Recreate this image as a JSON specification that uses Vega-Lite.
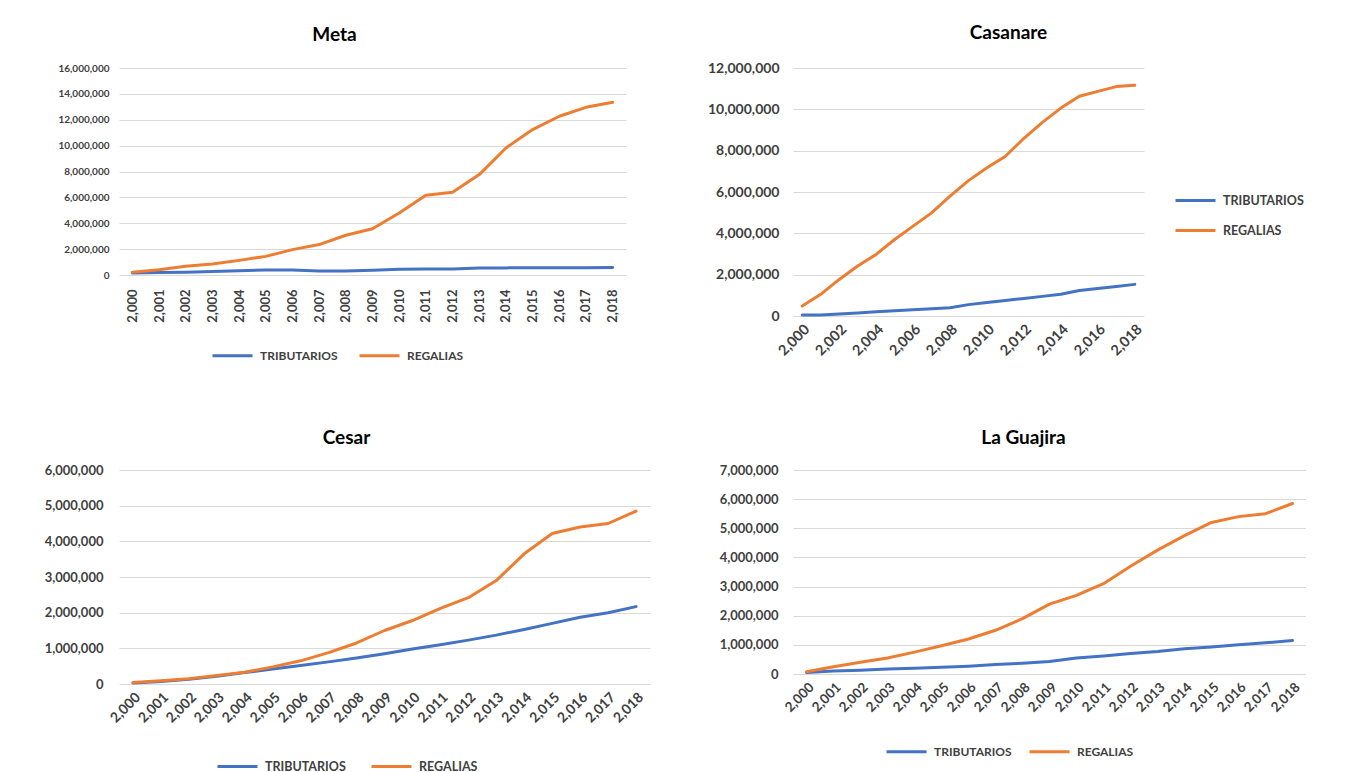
{
  "$schema": "https://vega.github.io/schema/vega-lite/v6.json",
  "autosize": {"type": "pad"},
  "padding": {"left": 44, "top": 24, "right": 0, "bottom": 0},
  "background": "white",
  "config": {
    "font": "Lato",
    "view": {"stroke": null},
    "axis": {"labelFont": "Lato", "labelFontWeight": "bold", "labelColor": "#404040", "domain": false, "ticks": false, "title": null},
    "axisY": {"grid": true, "gridColor": "#d9d9d9", "gridWidth": 1, "labelPadding": 10},
    "axisX": {"grid": false},
    "title": {"font": "Lato", "fontWeight": "bold", "color": "#000000", "anchor": "middle"},
    "legend": {"title": null, "symbolType": "stroke", "symbolSize": 1600, "symbolStrokeWidth": 3, "labelFont": "Lato", "labelFontWeight": "bold", "labelColor": "#404040", "labelOffset": 6},
    "line": {"strokeWidth": 3, "strokeCap": "round", "strokeJoin": "round"}
  },
  "datasets": {
    "rows": [
      {"dept": "Meta", "serie": "TRIBUTARIOS", "year": 2000, "value": 150000},
      {"dept": "Meta", "serie": "TRIBUTARIOS", "year": 2001, "value": 200000},
      {"dept": "Meta", "serie": "TRIBUTARIOS", "year": 2002, "value": 220000},
      {"dept": "Meta", "serie": "TRIBUTARIOS", "year": 2003, "value": 270000},
      {"dept": "Meta", "serie": "TRIBUTARIOS", "year": 2004, "value": 320000},
      {"dept": "Meta", "serie": "TRIBUTARIOS", "year": 2005, "value": 390000},
      {"dept": "Meta", "serie": "TRIBUTARIOS", "year": 2006, "value": 380000},
      {"dept": "Meta", "serie": "TRIBUTARIOS", "year": 2007, "value": 300000},
      {"dept": "Meta", "serie": "TRIBUTARIOS", "year": 2008, "value": 300000},
      {"dept": "Meta", "serie": "TRIBUTARIOS", "year": 2009, "value": 360000},
      {"dept": "Meta", "serie": "TRIBUTARIOS", "year": 2010, "value": 450000},
      {"dept": "Meta", "serie": "TRIBUTARIOS", "year": 2011, "value": 470000},
      {"dept": "Meta", "serie": "TRIBUTARIOS", "year": 2012, "value": 470000},
      {"dept": "Meta", "serie": "TRIBUTARIOS", "year": 2013, "value": 540000},
      {"dept": "Meta", "serie": "TRIBUTARIOS", "year": 2014, "value": 550000},
      {"dept": "Meta", "serie": "TRIBUTARIOS", "year": 2015, "value": 560000},
      {"dept": "Meta", "serie": "TRIBUTARIOS", "year": 2016, "value": 570000},
      {"dept": "Meta", "serie": "TRIBUTARIOS", "year": 2017, "value": 570000},
      {"dept": "Meta", "serie": "TRIBUTARIOS", "year": 2018, "value": 580000},
      {"dept": "Meta", "serie": "REGALIAS", "year": 2000, "value": 210000},
      {"dept": "Meta", "serie": "REGALIAS", "year": 2001, "value": 410000},
      {"dept": "Meta", "serie": "REGALIAS", "year": 2002, "value": 670000},
      {"dept": "Meta", "serie": "REGALIAS", "year": 2003, "value": 850000},
      {"dept": "Meta", "serie": "REGALIAS", "year": 2004, "value": 1130000},
      {"dept": "Meta", "serie": "REGALIAS", "year": 2005, "value": 1440000},
      {"dept": "Meta", "serie": "REGALIAS", "year": 2006, "value": 1960000},
      {"dept": "Meta", "serie": "REGALIAS", "year": 2007, "value": 2350000},
      {"dept": "Meta", "serie": "REGALIAS", "year": 2008, "value": 3070000},
      {"dept": "Meta", "serie": "REGALIAS", "year": 2009, "value": 3580000},
      {"dept": "Meta", "serie": "REGALIAS", "year": 2010, "value": 4790000},
      {"dept": "Meta", "serie": "REGALIAS", "year": 2011, "value": 6160000},
      {"dept": "Meta", "serie": "REGALIAS", "year": 2012, "value": 6390000},
      {"dept": "Meta", "serie": "REGALIAS", "year": 2013, "value": 7760000},
      {"dept": "Meta", "serie": "REGALIAS", "year": 2014, "value": 9820000},
      {"dept": "Meta", "serie": "REGALIAS", "year": 2015, "value": 11240000},
      {"dept": "Meta", "serie": "REGALIAS", "year": 2016, "value": 12270000},
      {"dept": "Meta", "serie": "REGALIAS", "year": 2017, "value": 12960000},
      {"dept": "Meta", "serie": "REGALIAS", "year": 2018, "value": 13350000},
      {"dept": "Casanare", "serie": "TRIBUTARIOS", "year": 2000, "value": 50000},
      {"dept": "Casanare", "serie": "TRIBUTARIOS", "year": 2001, "value": 50000},
      {"dept": "Casanare", "serie": "TRIBUTARIOS", "year": 2002, "value": 100000},
      {"dept": "Casanare", "serie": "TRIBUTARIOS", "year": 2003, "value": 150000},
      {"dept": "Casanare", "serie": "TRIBUTARIOS", "year": 2004, "value": 200000},
      {"dept": "Casanare", "serie": "TRIBUTARIOS", "year": 2005, "value": 250000},
      {"dept": "Casanare", "serie": "TRIBUTARIOS", "year": 2006, "value": 300000},
      {"dept": "Casanare", "serie": "TRIBUTARIOS", "year": 2007, "value": 350000},
      {"dept": "Casanare", "serie": "TRIBUTARIOS", "year": 2008, "value": 400000},
      {"dept": "Casanare", "serie": "TRIBUTARIOS", "year": 2009, "value": 550000},
      {"dept": "Casanare", "serie": "TRIBUTARIOS", "year": 2010, "value": 650000},
      {"dept": "Casanare", "serie": "TRIBUTARIOS", "year": 2011, "value": 750000},
      {"dept": "Casanare", "serie": "TRIBUTARIOS", "year": 2012, "value": 850000},
      {"dept": "Casanare", "serie": "TRIBUTARIOS", "year": 2013, "value": 950000},
      {"dept": "Casanare", "serie": "TRIBUTARIOS", "year": 2014, "value": 1050000},
      {"dept": "Casanare", "serie": "TRIBUTARIOS", "year": 2015, "value": 1230000},
      {"dept": "Casanare", "serie": "TRIBUTARIOS", "year": 2016, "value": 1330000},
      {"dept": "Casanare", "serie": "TRIBUTARIOS", "year": 2017, "value": 1430000},
      {"dept": "Casanare", "serie": "TRIBUTARIOS", "year": 2018, "value": 1530000},
      {"dept": "Casanare", "serie": "REGALIAS", "year": 2000, "value": 480000},
      {"dept": "Casanare", "serie": "REGALIAS", "year": 2001, "value": 1050000},
      {"dept": "Casanare", "serie": "REGALIAS", "year": 2002, "value": 1770000},
      {"dept": "Casanare", "serie": "REGALIAS", "year": 2003, "value": 2420000},
      {"dept": "Casanare", "serie": "REGALIAS", "year": 2004, "value": 2980000},
      {"dept": "Casanare", "serie": "REGALIAS", "year": 2005, "value": 3700000},
      {"dept": "Casanare", "serie": "REGALIAS", "year": 2006, "value": 4350000},
      {"dept": "Casanare", "serie": "REGALIAS", "year": 2007, "value": 4990000},
      {"dept": "Casanare", "serie": "REGALIAS", "year": 2008, "value": 5800000},
      {"dept": "Casanare", "serie": "REGALIAS", "year": 2009, "value": 6550000},
      {"dept": "Casanare", "serie": "REGALIAS", "year": 2010, "value": 7170000},
      {"dept": "Casanare", "serie": "REGALIAS", "year": 2011, "value": 7730000},
      {"dept": "Casanare", "serie": "REGALIAS", "year": 2012, "value": 8600000},
      {"dept": "Casanare", "serie": "REGALIAS", "year": 2013, "value": 9370000},
      {"dept": "Casanare", "serie": "REGALIAS", "year": 2014, "value": 10060000},
      {"dept": "Casanare", "serie": "REGALIAS", "year": 2015, "value": 10630000},
      {"dept": "Casanare", "serie": "REGALIAS", "year": 2016, "value": 10870000},
      {"dept": "Casanare", "serie": "REGALIAS", "year": 2017, "value": 11100000},
      {"dept": "Casanare", "serie": "REGALIAS", "year": 2018, "value": 11160000},
      {"dept": "Cesar", "serie": "TRIBUTARIOS", "year": 2000, "value": 30000},
      {"dept": "Cesar", "serie": "TRIBUTARIOS", "year": 2001, "value": 70000},
      {"dept": "Cesar", "serie": "TRIBUTARIOS", "year": 2002, "value": 130000},
      {"dept": "Cesar", "serie": "TRIBUTARIOS", "year": 2003, "value": 220000},
      {"dept": "Cesar", "serie": "TRIBUTARIOS", "year": 2004, "value": 320000},
      {"dept": "Cesar", "serie": "TRIBUTARIOS", "year": 2005, "value": 420000},
      {"dept": "Cesar", "serie": "TRIBUTARIOS", "year": 2006, "value": 520000},
      {"dept": "Cesar", "serie": "TRIBUTARIOS", "year": 2007, "value": 620000},
      {"dept": "Cesar", "serie": "TRIBUTARIOS", "year": 2008, "value": 730000},
      {"dept": "Cesar", "serie": "TRIBUTARIOS", "year": 2009, "value": 850000},
      {"dept": "Cesar", "serie": "TRIBUTARIOS", "year": 2010, "value": 980000},
      {"dept": "Cesar", "serie": "TRIBUTARIOS", "year": 2011, "value": 1100000},
      {"dept": "Cesar", "serie": "TRIBUTARIOS", "year": 2012, "value": 1230000},
      {"dept": "Cesar", "serie": "TRIBUTARIOS", "year": 2013, "value": 1370000},
      {"dept": "Cesar", "serie": "TRIBUTARIOS", "year": 2014, "value": 1530000},
      {"dept": "Cesar", "serie": "TRIBUTARIOS", "year": 2015, "value": 1700000},
      {"dept": "Cesar", "serie": "TRIBUTARIOS", "year": 2016, "value": 1870000},
      {"dept": "Cesar", "serie": "TRIBUTARIOS", "year": 2017, "value": 2000000},
      {"dept": "Cesar", "serie": "TRIBUTARIOS", "year": 2018, "value": 2170000},
      {"dept": "Cesar", "serie": "REGALIAS", "year": 2000, "value": 40000},
      {"dept": "Cesar", "serie": "REGALIAS", "year": 2001, "value": 90000},
      {"dept": "Cesar", "serie": "REGALIAS", "year": 2002, "value": 150000},
      {"dept": "Cesar", "serie": "REGALIAS", "year": 2003, "value": 240000},
      {"dept": "Cesar", "serie": "REGALIAS", "year": 2004, "value": 330000},
      {"dept": "Cesar", "serie": "REGALIAS", "year": 2005, "value": 480000},
      {"dept": "Cesar", "serie": "REGALIAS", "year": 2006, "value": 650000},
      {"dept": "Cesar", "serie": "REGALIAS", "year": 2007, "value": 880000},
      {"dept": "Cesar", "serie": "REGALIAS", "year": 2008, "value": 1150000},
      {"dept": "Cesar", "serie": "REGALIAS", "year": 2009, "value": 1500000},
      {"dept": "Cesar", "serie": "REGALIAS", "year": 2010, "value": 1780000},
      {"dept": "Cesar", "serie": "REGALIAS", "year": 2011, "value": 2120000},
      {"dept": "Cesar", "serie": "REGALIAS", "year": 2012, "value": 2420000},
      {"dept": "Cesar", "serie": "REGALIAS", "year": 2013, "value": 2900000},
      {"dept": "Cesar", "serie": "REGALIAS", "year": 2014, "value": 3650000},
      {"dept": "Cesar", "serie": "REGALIAS", "year": 2015, "value": 4220000},
      {"dept": "Cesar", "serie": "REGALIAS", "year": 2016, "value": 4400000},
      {"dept": "Cesar", "serie": "REGALIAS", "year": 2017, "value": 4500000},
      {"dept": "Cesar", "serie": "REGALIAS", "year": 2018, "value": 4850000},
      {"dept": "La Guajira", "serie": "TRIBUTARIOS", "year": 2000, "value": 50000},
      {"dept": "La Guajira", "serie": "TRIBUTARIOS", "year": 2001, "value": 100000},
      {"dept": "La Guajira", "serie": "TRIBUTARIOS", "year": 2002, "value": 130000},
      {"dept": "La Guajira", "serie": "TRIBUTARIOS", "year": 2003, "value": 170000},
      {"dept": "La Guajira", "serie": "TRIBUTARIOS", "year": 2004, "value": 200000},
      {"dept": "La Guajira", "serie": "TRIBUTARIOS", "year": 2005, "value": 230000},
      {"dept": "La Guajira", "serie": "TRIBUTARIOS", "year": 2006, "value": 270000},
      {"dept": "La Guajira", "serie": "TRIBUTARIOS", "year": 2007, "value": 330000},
      {"dept": "La Guajira", "serie": "TRIBUTARIOS", "year": 2008, "value": 370000},
      {"dept": "La Guajira", "serie": "TRIBUTARIOS", "year": 2009, "value": 430000},
      {"dept": "La Guajira", "serie": "TRIBUTARIOS", "year": 2010, "value": 550000},
      {"dept": "La Guajira", "serie": "TRIBUTARIOS", "year": 2011, "value": 620000},
      {"dept": "La Guajira", "serie": "TRIBUTARIOS", "year": 2012, "value": 700000},
      {"dept": "La Guajira", "serie": "TRIBUTARIOS", "year": 2013, "value": 770000},
      {"dept": "La Guajira", "serie": "TRIBUTARIOS", "year": 2014, "value": 870000},
      {"dept": "La Guajira", "serie": "TRIBUTARIOS", "year": 2015, "value": 930000},
      {"dept": "La Guajira", "serie": "TRIBUTARIOS", "year": 2016, "value": 1000000},
      {"dept": "La Guajira", "serie": "TRIBUTARIOS", "year": 2017, "value": 1070000},
      {"dept": "La Guajira", "serie": "TRIBUTARIOS", "year": 2018, "value": 1150000},
      {"dept": "La Guajira", "serie": "REGALIAS", "year": 2000, "value": 80000},
      {"dept": "La Guajira", "serie": "REGALIAS", "year": 2001, "value": 250000},
      {"dept": "La Guajira", "serie": "REGALIAS", "year": 2002, "value": 400000},
      {"dept": "La Guajira", "serie": "REGALIAS", "year": 2003, "value": 550000},
      {"dept": "La Guajira", "serie": "REGALIAS", "year": 2004, "value": 750000},
      {"dept": "La Guajira", "serie": "REGALIAS", "year": 2005, "value": 970000},
      {"dept": "La Guajira", "serie": "REGALIAS", "year": 2006, "value": 1200000},
      {"dept": "La Guajira", "serie": "REGALIAS", "year": 2007, "value": 1500000},
      {"dept": "La Guajira", "serie": "REGALIAS", "year": 2008, "value": 1900000},
      {"dept": "La Guajira", "serie": "REGALIAS", "year": 2009, "value": 2400000},
      {"dept": "La Guajira", "serie": "REGALIAS", "year": 2010, "value": 2700000},
      {"dept": "La Guajira", "serie": "REGALIAS", "year": 2011, "value": 3100000},
      {"dept": "La Guajira", "serie": "REGALIAS", "year": 2012, "value": 3700000},
      {"dept": "La Guajira", "serie": "REGALIAS", "year": 2013, "value": 4250000},
      {"dept": "La Guajira", "serie": "REGALIAS", "year": 2014, "value": 4750000},
      {"dept": "La Guajira", "serie": "REGALIAS", "year": 2015, "value": 5200000},
      {"dept": "La Guajira", "serie": "REGALIAS", "year": 2016, "value": 5400000},
      {"dept": "La Guajira", "serie": "REGALIAS", "year": 2017, "value": 5500000},
      {"dept": "La Guajira", "serie": "REGALIAS", "year": 2018, "value": 5850000}
    ]
  },
  "columns": 2,
  "align": "each",
  "bounds": "flush",
  "spacing": {"row": 154, "column": 143},
  "resolve": {"scale": {"color": "independent"}, "legend": {"color": "independent"}},
  "concat": [
    {
      "data": {"name": "rows"},
      "width": 507,
      "height": 207,
      "title": {"text": "Meta", "fontSize": 19, "dx": -38, "offset": 18},
      "transform": [{"filter": "datum.dept === 'Meta'"}],
      "mark": {"type": "line"},
      "encoding": {
        "x": {"field": "year", "type": "ordinal", "scale": {"type": "point", "padding": 0.5},
              "axis": {"labelAngle": -90, "labelFontSize": 13, "labelPadding": 14, "labelExpr": "format(datum.value, ',')"}},
        "y": {"field": "value", "type": "quantitative", "scale": {"domain": [0, 16000000], "nice": false},
              "axis": {"values": [0, 2000000, 4000000, 6000000, 8000000, 10000000, 12000000, 14000000, 16000000], "format": ",d", "labelFontSize": 10}},
        "color": {"field": "serie", "type": "nominal", "sort": ["TRIBUTARIOS", "REGALIAS"],
                  "scale": {"domain": ["TRIBUTARIOS", "REGALIAS"], "range": ["#4472C4", "#ED7D31"]},
                  "legend": {"orient": "none", "legendX": 92, "legendY": 266, "direction": "horizontal", "labelFontSize": 12, "columnPadding": 20}}
      }
    },
    {
      "data": {"name": "rows"},
      "width": 351,
      "height": 248,
      "title": {"text": "Casanare", "fontSize": 19, "dx": 40, "offset": 18},
      "transform": [{"filter": "datum.dept === 'Casanare'"}],
      "mark": {"type": "line"},
      "encoding": {
        "x": {"field": "year", "type": "ordinal", "scale": {"type": "point", "padding": 0.5},
              "axis": {"labelAngle": -45, "labelFontSize": 14.5, "labelPadding": 6, "values": [2000, 2002, 2004, 2006, 2008, 2010, 2012, 2014, 2016, 2018], "labelExpr": "format(datum.value, ',')"}},
        "y": {"field": "value", "type": "quantitative", "scale": {"domain": [0, 12000000], "nice": false},
              "axis": {"values": [0, 2000000, 4000000, 6000000, 8000000, 10000000, 12000000], "format": ",d", "labelFontSize": 14, "labelPadding": 14}},
        "color": {"field": "serie", "type": "nominal", "sort": ["TRIBUTARIOS", "REGALIAS"],
                  "scale": {"domain": ["TRIBUTARIOS", "REGALIAS"], "range": ["#4472C4", "#ED7D31"]},
                  "legend": {"orient": "none", "legendX": 381, "legendY": 111, "direction": "vertical", "labelFontSize": 12.5, "rowPadding": 2}}
      }
    },
    {
      "data": {"name": "rows"},
      "width": 531,
      "height": 214,
      "title": {"text": "Cesar", "fontSize": 19, "dx": -38, "offset": 16},
      "transform": [{"filter": "datum.dept === 'Cesar'"}],
      "mark": {"type": "line"},
      "encoding": {
        "x": {"field": "year", "type": "ordinal", "scale": {"type": "point", "padding": 0.5},
              "axis": {"labelAngle": -45, "labelFontSize": 14, "labelPadding": 6, "labelExpr": "format(datum.value, ',')"}},
        "y": {"field": "value", "type": "quantitative", "scale": {"domain": [0, 6000000], "nice": false},
              "axis": {"values": [0, 1000000, 2000000, 3000000, 4000000, 5000000, 6000000], "format": ",d", "labelFontSize": 13, "labelPadding": 16}},
        "color": {"field": "serie", "type": "nominal", "sort": ["TRIBUTARIOS", "REGALIAS"],
                  "scale": {"domain": ["TRIBUTARIOS", "REGALIAS"], "range": ["#4472C4", "#ED7D31"]},
                  "legend": {"orient": "none", "legendX": 97, "legendY": 275, "direction": "horizontal", "labelFontSize": 12.5, "columnPadding": 24}}
      }
    },
    {
      "data": {"name": "rows"},
      "width": 513,
      "height": 204,
      "title": {"text": "La Guajira", "fontSize": 19, "dx": -26, "offset": 16},
      "transform": [{"filter": "datum.dept === 'La Guajira'"}],
      "mark": {"type": "line"},
      "encoding": {
        "x": {"field": "year", "type": "ordinal", "scale": {"type": "point", "padding": 0.5},
              "axis": {"labelAngle": -45, "labelFontSize": 13.5, "labelPadding": 6, "labelExpr": "format(datum.value, ',')"}},
        "y": {"field": "value", "type": "quantitative", "scale": {"domain": [0, 7000000], "nice": false},
              "axis": {"values": [0, 1000000, 2000000, 3000000, 4000000, 5000000, 6000000, 7000000], "format": ",d", "labelFontSize": 13, "labelPadding": 15}},
        "color": {"field": "serie", "type": "nominal", "sort": ["TRIBUTARIOS", "REGALIAS"],
                  "scale": {"domain": ["TRIBUTARIOS", "REGALIAS"], "range": ["#4472C4", "#ED7D31"]},
                  "legend": {"orient": "none", "legendX": 92, "legendY": 260, "direction": "horizontal", "labelFontSize": 12, "columnPadding": 16}}
      }
    }
  ]
}
